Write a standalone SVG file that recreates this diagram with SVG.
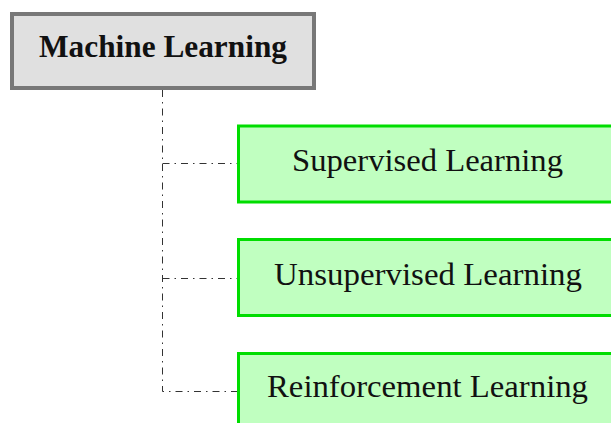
<svg xmlns="http://www.w3.org/2000/svg" width="611" height="423" viewBox="0 0 611 423">
  <style>
    .root rect { fill: #e0e0e0; stroke: #787878; stroke-width: 4; }
    .leaf rect { fill: #c0ffc0; stroke: #00dd00; stroke-width: 3; }
    text { font-family: "Liberation Serif", "Times New Roman", serif; fill: #111; text-anchor: middle; }
    .root text { font-size: 30.5px; font-weight: bold; }
    .leaf text { font-size: 31px; }
    .link { fill: none; stroke: #333; stroke-width: 1; stroke-dasharray: 7 5 1.5 5; }
  </style>
  <rect width="611" height="423" fill="#ffffff"/>

  <g id="connectors">
    <path class="link" d="M162.5 90 V391.5 H237"/>
    <path class="link" d="M162.5 163.5 H237"/>
    <path class="link" d="M162.5 278.5 H237"/>
  </g>

  <g id="machine-learning" class="root">
    <rect x="12" y="14" width="302" height="74"/>
    <text x="163" y="57" textLength="248" lengthAdjust="spacingAndGlyphs">Machine Learning</text>
  </g>

  <g id="supervised-learning" class="leaf">
    <rect x="238.5" y="126" width="380" height="76"/>
    <text x="427.5" y="171" textLength="271" lengthAdjust="spacingAndGlyphs">Supervised Learning</text>
  </g>

  <g id="unsupervised-learning" class="leaf">
    <rect x="238.5" y="239.5" width="380" height="76"/>
    <text x="428" y="285" textLength="308" lengthAdjust="spacingAndGlyphs">Unsupervised Learning</text>
  </g>

  <g id="reinforcement-learning" class="leaf">
    <rect x="238.5" y="353.5" width="380" height="76"/>
    <text x="427.5" y="397" textLength="321" lengthAdjust="spacingAndGlyphs">Reinforcement Learning</text>
  </g>
</svg>
